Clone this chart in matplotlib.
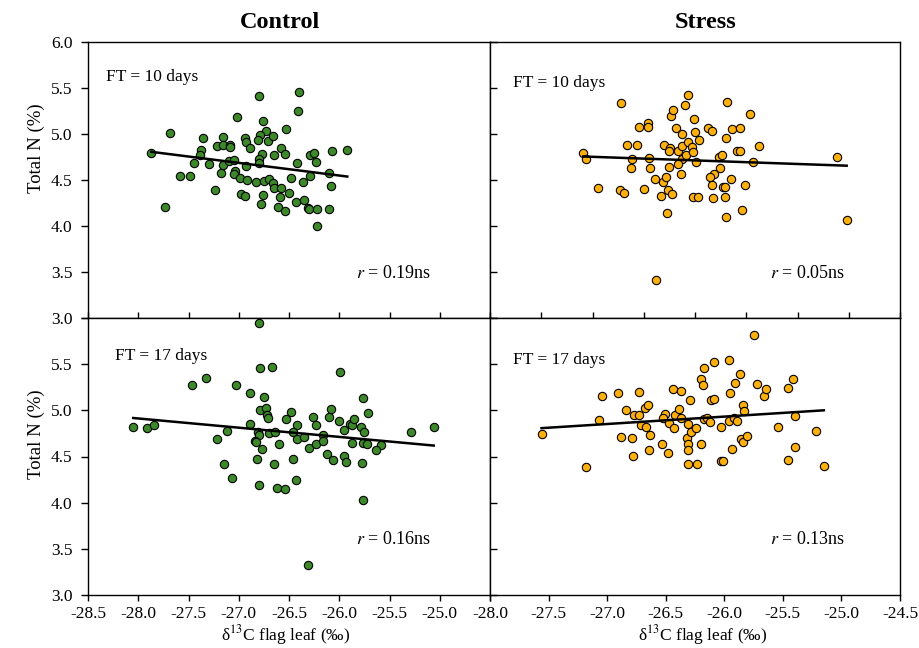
import matplotlib.pyplot as plt
import numpy as np

# data (d13C flag leaf, total N %)
ctrl10_x = [-27.87, -27.68, -27.73, -27.58, -27.49, -27.45, -27.38, -27.39, -27.36, -27.30,
            -27.24, -27.22, -27.16, -27.16, -27.18, -27.16, -27.09, -27.09, -27.10, -27.05,
            -27.02, -27.04, -27.05, -26.99, -26.98, -26.94, -26.94, -26.93, -26.89, -26.93,
            -26.92, -26.80, -26.76, -26.73, -26.79, -26.81, -26.71, -26.66, -26.77, -26.80,
            -26.80, -26.83, -26.75, -26.70, -26.76, -26.78, -26.65, -26.66, -26.65, -26.58,
            -26.59, -26.61, -26.54, -26.58, -26.54, -26.53, -26.50, -26.48, -26.42, -26.40,
            -26.41, -26.43, -26.36, -26.35, -26.31, -26.30, -26.29, -26.29, -26.25, -26.23,
            -26.22, -26.22, -26.10, -26.10, -26.08, -26.07, -25.92]
ctrl10_y = [4.79, 5.01, 4.21, 4.54, 4.54, 4.68, 4.83, 4.77, 4.96, 4.67,
            4.39, 4.87, 4.97, 4.88, 4.58, 4.66, 4.88, 4.86, 4.71, 4.72,
            5.18, 4.60, 4.56, 4.52, 4.35, 4.33, 4.96, 4.91, 4.85, 4.65,
            4.50, 5.41, 5.14, 5.03, 4.99, 4.94, 4.92, 4.98, 4.78, 4.73,
            4.69, 4.48, 4.49, 4.51, 4.34, 4.24, 4.77, 4.47, 4.41, 4.41,
            4.32, 4.21, 4.16, 4.85, 4.78, 5.05, 4.36, 4.52, 4.69, 5.46,
            5.25, 4.26, 4.48, 4.28, 4.20, 4.19, 4.54, 4.77, 4.79, 4.70,
            4.19, 4.00, 4.19, 4.58, 4.43, 4.82, 4.83]

stress10_x = [-27.59, -27.56, -27.45, -27.22, -27.16, -27.07, -27.11, -27.12, -27.23, -27.19,
              -27.05, -26.96, -26.96, -26.95, -26.94, -27.00, -26.89, -26.81, -26.78, -26.83,
              -26.76, -26.72, -26.77, -26.88, -26.80, -26.74, -26.75, -26.73, -26.71, -26.69,
              -26.67, -26.63, -26.63, -26.63, -26.59, -26.67, -26.75, -26.64, -26.57, -26.60,
              -26.57, -26.53, -26.52, -26.51, -26.50, -26.46, -26.49, -26.52, -26.47, -26.37,
              -26.33, -26.27, -26.24, -26.26, -26.31, -26.35, -26.33, -26.32, -26.23, -26.21,
              -26.21, -26.20, -26.19, -26.20, -26.14, -26.15, -26.09, -26.06, -26.06, -26.04,
              -26.01, -25.96, -25.93, -25.88, -25.11, -25.02]
stress10_y = [4.79, 4.73, 4.41, 5.34, 4.88, 4.88, 4.73, 4.63, 4.39, 4.36,
              5.08, 5.12, 5.08, 4.74, 4.63, 4.40, 4.51, 4.48, 4.53, 4.33,
              4.39, 4.35, 4.14, 3.41, 4.88, 4.85, 4.81, 5.20, 5.26, 5.07,
              4.82, 5.00, 4.87, 4.73, 4.77, 4.67, 4.64, 4.57, 5.42, 5.31,
              4.91, 4.86, 4.80, 5.16, 5.02, 4.94, 4.70, 4.31, 4.31, 5.07,
              5.03, 4.75, 4.77, 4.63, 4.57, 4.53, 4.45, 4.30, 4.42, 4.42,
              4.32, 4.10, 5.35, 4.96, 5.05, 4.51, 4.82, 4.82, 5.07, 4.17,
              4.45, 5.22, 4.70, 4.87, 4.75, 4.07]

ctrl17_x = [-26.80, -26.79, -26.67, -25.99, -27.47, -27.33, -27.03, -26.89, -26.75, -26.79,
            -26.73, -26.72, -26.71, -26.48, -26.53, -26.26, -26.10, -26.08, -25.76, -25.71,
            -28.05, -27.91, -27.84, -27.12, -27.22, -26.89, -26.81, -26.80, -26.70, -26.64,
            -26.84, -26.83, -26.77, -26.60, -26.42, -26.46, -26.42, -26.35, -26.23, -26.30,
            -26.23, -26.16, -26.16, -26.00, -25.95, -25.89, -25.87, -25.85, -25.78, -25.75,
            -25.87, -25.76, -25.72, -25.58, -25.63, -26.12, -26.06, -25.95, -25.93, -25.77,
            -27.15, -27.07, -26.82, -26.65, -26.46, -26.80, -26.62, -26.54, -26.43, -25.76,
            -26.31, -25.29, -25.06]
ctrl17_y = [5.95, 5.46, 5.47, 5.41, 5.27, 5.35, 5.27, 5.19, 5.14, 5.00,
            5.03, 4.95, 4.92, 4.98, 4.91, 4.93, 4.93, 5.01, 5.13, 4.97,
            4.82, 4.81, 4.84, 4.78, 4.69, 4.85, 4.77, 4.73, 4.75, 4.76,
            4.67, 4.66, 4.58, 4.63, 4.84, 4.77, 4.69, 4.71, 4.84, 4.59,
            4.63, 4.73, 4.67, 4.88, 4.79, 4.85, 4.84, 4.91, 4.82, 4.76,
            4.65, 4.65, 4.64, 4.62, 4.57, 4.53, 4.46, 4.51, 4.44, 4.43,
            4.42, 4.27, 4.47, 4.42, 4.47, 4.19, 4.16, 4.15, 4.25, 4.03,
            3.33, 4.76, 4.82]

stress17_x = [-27.56, -27.18, -27.07, -27.04, -26.91, -26.88, -26.84, -26.79, -26.78, -26.77,
              -26.73, -26.73, -26.71, -26.68, -26.67, -26.65, -26.63, -26.64, -26.53, -26.51,
              -26.52, -26.48, -26.47, -26.44, -26.43, -26.42, -26.39, -26.37, -26.37, -26.32,
              -26.31, -26.31, -26.31, -26.29, -26.28, -26.24, -26.31, -26.23, -26.20, -26.20,
              -26.18, -26.17, -26.17, -26.15, -26.12, -26.11, -26.09, -26.09, -26.03, -26.03,
              -26.01, -25.96, -25.96, -25.95, -25.92, -25.93, -25.91, -25.89, -25.87, -25.86,
              -25.84, -25.84, -25.83, -25.81, -25.75, -25.72, -25.66, -25.64, -25.54, -25.46,
              -25.46, -25.41, -25.40, -25.40, -25.22, -25.15]
stress17_y = [4.74, 4.39, 4.89, 5.16, 5.19, 4.71, 5.00, 4.70, 4.51, 4.95,
              4.95, 5.20, 4.84, 5.02, 4.82, 5.06, 4.73, 4.57, 4.64, 4.96,
              4.92, 4.54, 4.86, 5.23, 4.81, 4.95, 5.01, 4.92, 5.21, 4.70,
              4.64, 4.57, 4.85, 5.11, 4.76, 4.81, 4.42, 4.42, 4.64, 5.34,
              5.27, 5.46, 4.91, 4.92, 4.87, 5.11, 5.12, 5.52, 4.82, 4.45,
              4.45, 4.88, 5.54, 5.19, 4.92, 4.58, 5.30, 4.88, 5.39, 4.69,
              4.66, 5.06, 4.99, 4.72, 5.82, 5.28, 5.15, 5.23, 4.82, 4.46,
              5.24, 5.34, 4.94, 4.60, 4.78, 4.40]

r_labels = ['0.19', '0.05', '0.16', '0.13']
ft_labels = ['FT = 10 days', 'FT = 10 days', 'FT = 17 days', 'FT = 17 days']

green = '#3a8a26'
orange = '#ffb000'

plt.rcParams['font.family'] = ['Liberation Serif', 'DejaVu Serif']
plt.rcParams['mathtext.fontset'] = 'stix'

W, H = 920, 648
fig = plt.figure(figsize=(9.2, 6.48), dpi=100)


def box(x0, y0, x1, y1):
    return [x0 / W, 1 - y1 / H, (x1 - x0) / W, (y1 - y0) / H]


ax_tl = fig.add_axes(box(88, 42, 490, 318))
ax_tr = fig.add_axes(box(490, 42, 900, 318))
ax_bl = fig.add_axes(box(88, 318, 490, 595))
ax_br = fig.add_axes(box(490, 318, 900, 595))

panels = [
    (ax_tl, ctrl10_x, ctrl10_y, green, (-28.5, -24.5), (0.045, 0.873), (0.853, 0.16)),
    (ax_tr, stress10_x, stress10_y, orange, (-28.5, -24.5), (0.055, 0.853), (0.866, 0.16)),
    (ax_bl, ctrl17_x, ctrl17_y, green, (-28.5, -24.5), (0.067, 0.864), (0.853, 0.20)),
    (ax_br, stress17_x, stress17_y, orange, (-28.0, -24.5), (0.055, 0.848), (0.866, 0.20)),
]

for i, (ax, x, y, col, xlim, ftpos, rpos) in enumerate(panels):
    x = np.array(x)
    y = np.array(y)
    ax.scatter(x, y, s=36, color=col, edgecolor='black', linewidth=0.8, zorder=3)
    # linear trend line
    k, b = np.polyfit(x, y, 1)
    xx = np.array([x.min(), x.max()])
    ax.plot(xx, k * xx + b, color='black', lw=1.8, zorder=4)

    ax.set_xlim(*xlim)
    ax.set_ylim(3.0, 6.0)
    for sp in ax.spines.values():
        sp.set_linewidth(1.0)
        sp.set_color('black')

    xt = np.arange(xlim[0], xlim[1] + 0.01, 0.5)
    yt = np.arange(3.0, 6.01, 0.5)
    ax.set_xticks(xt)
    ax.set_yticks(yt)

    top = i < 2
    left = i % 2 == 0
    if top:
        ax.set_xticklabels([])
        ax.tick_params(axis='x', direction='in', length=4, width=1)
    else:
        labs = ['%.1f' % v for v in xt]
        if left:
            labs[-1] = ''
        ax.set_xticklabels(labs, fontsize=12.5)
        ax.tick_params(axis='x', direction='out', length=4, width=1, pad=4)
    if left:
        labs = ['%.1f' % v for v in yt]
        if not top:
            labs[-1] = ''
        ax.set_yticklabels(labs, fontsize=12.5)
        ax.tick_params(axis='y', direction='out', length=5, width=1, pad=6)
    else:
        ax.set_yticklabels([])
        ax.tick_params(axis='y', direction='in', length=5, width=1)

    ax.text(ftpos[0], ftpos[1], ft_labels[i], transform=ax.transAxes,
            fontsize=12.5, ha='left', va='center')
    ax.text(rpos[0], rpos[1], r'$r$ = ' + r_labels[i] + 'ns', transform=ax.transAxes,
            fontsize=13, ha='right', va='center')

fig.text(280 / W, 1 - 22 / H, 'Control', fontsize=17.5, fontweight='bold',
         ha='center', va='center')
fig.text(706 / W, 1 - 22 / H, 'Stress', fontsize=17.5, fontweight='bold',
         ha='center', va='center')

fig.text(36 / W, 1 - 148 / H, 'Total N (%)', fontsize=13.5, rotation=90,
         ha='center', va='center')
fig.text(36 / W, 1 - 434 / H, 'Total N (%)', fontsize=13.5, rotation=90,
         ha='center', va='center')

xlab = 'δ$^{13}$C flag leaf (‰)'
fig.text(286 / W, 1 - 635 / H, xlab, fontsize=12.5, ha='center', va='center')
fig.text(703 / W, 1 - 635 / H, xlab, fontsize=12.5, ha='center', va='center')

fig.savefig('out.png', dpi=100)
